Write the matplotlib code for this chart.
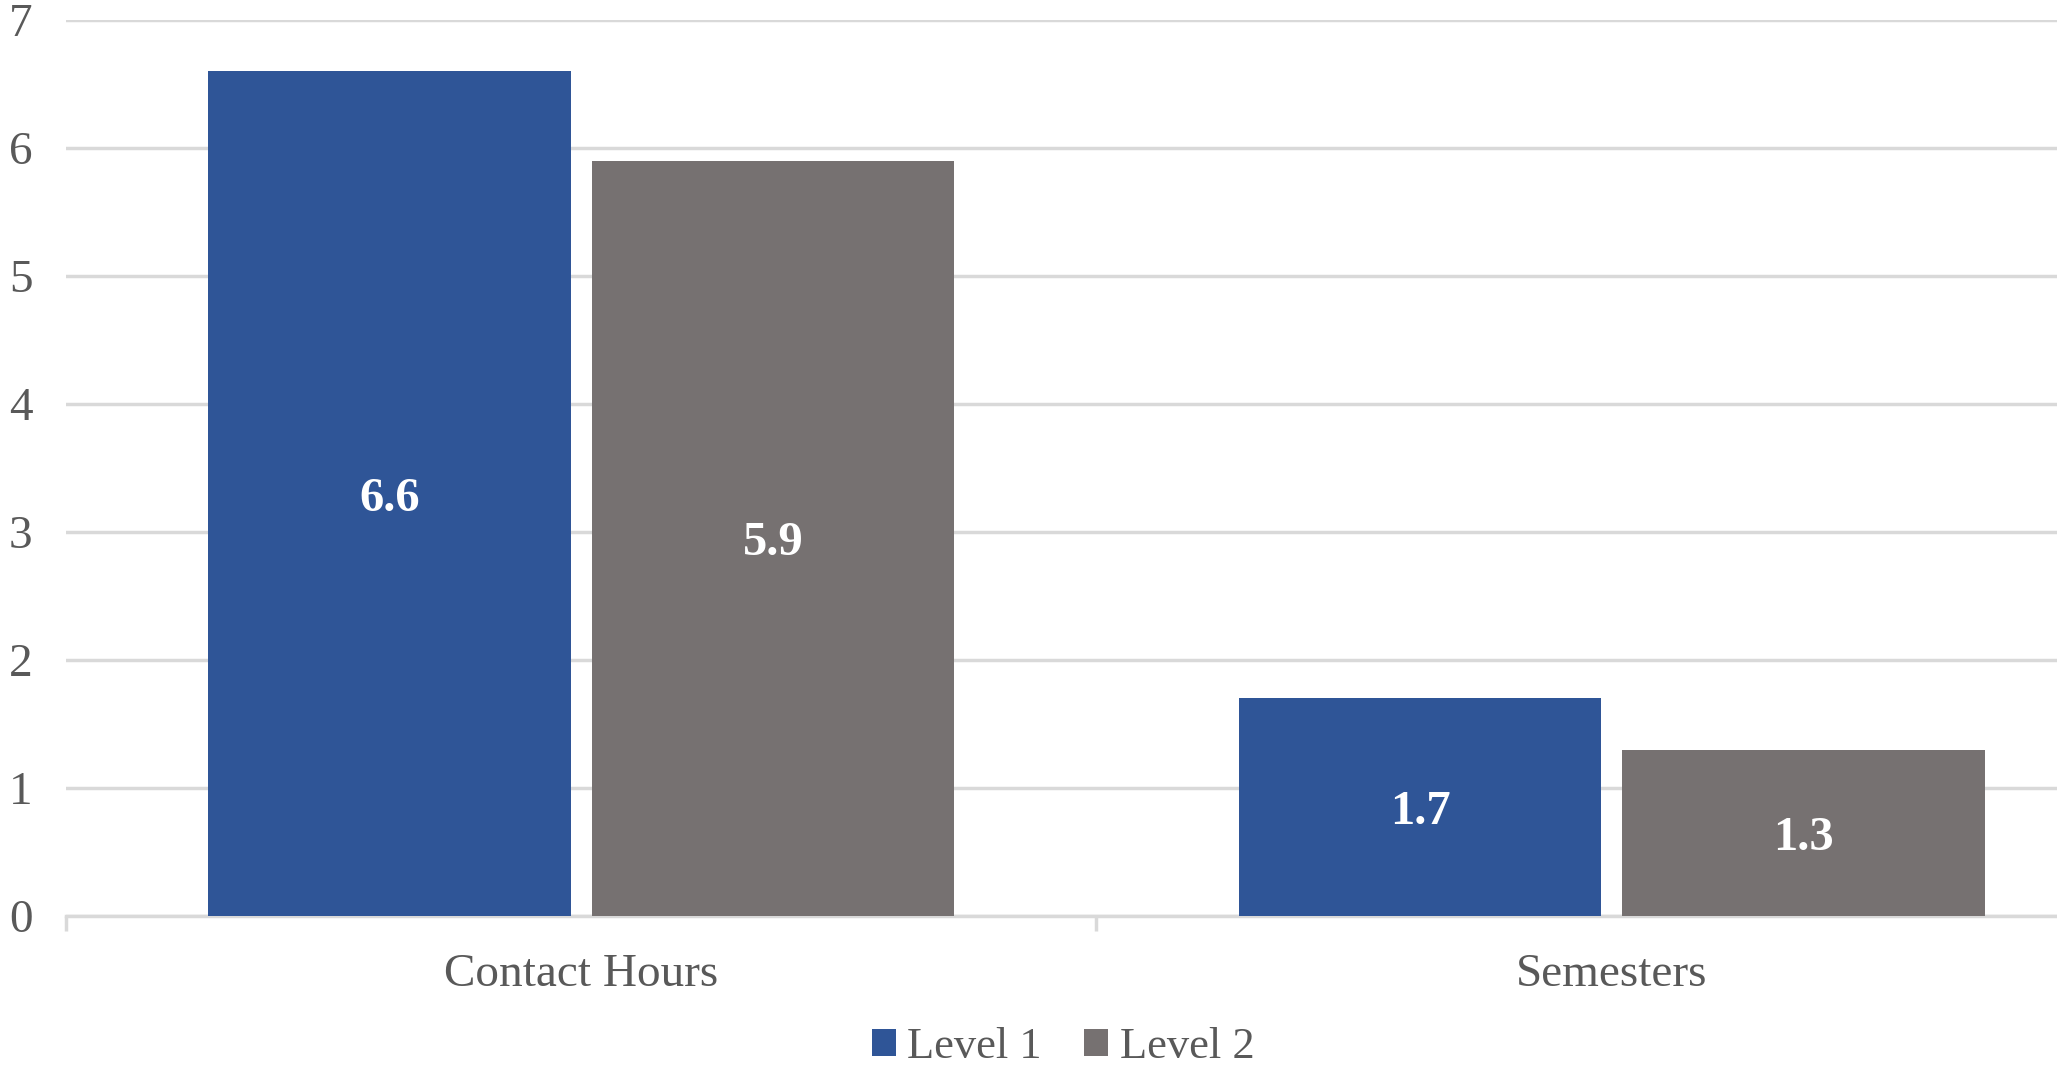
import numpy as np
import matplotlib.pyplot as plt

plt.rcParams['font.family'] = ['Liberation Serif', 'DejaVu Serif']

categories = ['Contact Hours', 'Semesters']
series_names = ['Level 1', 'Level 2']
level1 = [6.6, 1.7]
level2 = [5.9, 1.3]
colors = ['#2F5597', '#767171']

fig = plt.figure(figsize=(20.57, 10.67), dpi=100)
ax = fig.add_axes([66 / 2057, 1 - 916 / 1067, 2061 / 2057, 896 / 1067])

x = np.arange(len(categories))
width = 0.352
offset = 0.186

for vals, name, col, sign in [(level1, series_names[0], colors[0], -1),
                              (level2, series_names[1], colors[1], 1)]:
    bars = ax.bar(x + sign * offset, vals, width, color=col, label=name, zorder=3)
    for b, v in zip(bars, vals):
        ax.text(b.get_x() + b.get_width() / 2, v / 2, f'{v:.1f}', ha='center',
                va='center_baseline', color='white', fontsize=35, fontweight='bold', zorder=4)

ax.set_xlim(-0.5, 1.5)
ax.set_ylim(0, 7)
ax.set_yticks(range(0, 8))
ax.yaxis.grid(True, color='#d9d9d9', linewidth=2.5, zorder=0)
ax.set_axisbelow(True)

# category boundary ticks and centered labels
ax.set_xticks([-0.5, 0.5, 1.5])
ax.set_xticklabels([])
ax.set_xticks(x, minor=True)
ax.set_xticklabels(categories, minor=True)
ax.tick_params(axis='x', which='major', length=11, width=2.5, color='#d9d9d9')
ax.tick_params(axis='x', which='minor', length=0, pad=27, labelsize=34, labelcolor='#595959')
ax.tick_params(axis='y', length=0, pad=24, labelsize=34, labelcolor='#595959')

for s in ['top', 'right', 'left']:
    ax.spines[s].set_visible(False)
ax.spines['bottom'].set_color('#d9d9d9')
ax.spines['bottom'].set_linewidth(2.5)

fig.legend(loc='center', bbox_to_anchor=(1063 / 2057, 1 - 1047 / 1067), ncol=2, frameon=False,
           fontsize=32, labelcolor='#595959', handlelength=0.55, handleheight=0.55,
           handletextpad=0.25, columnspacing=0.95)

fig.savefig('out.png', dpi=100)
